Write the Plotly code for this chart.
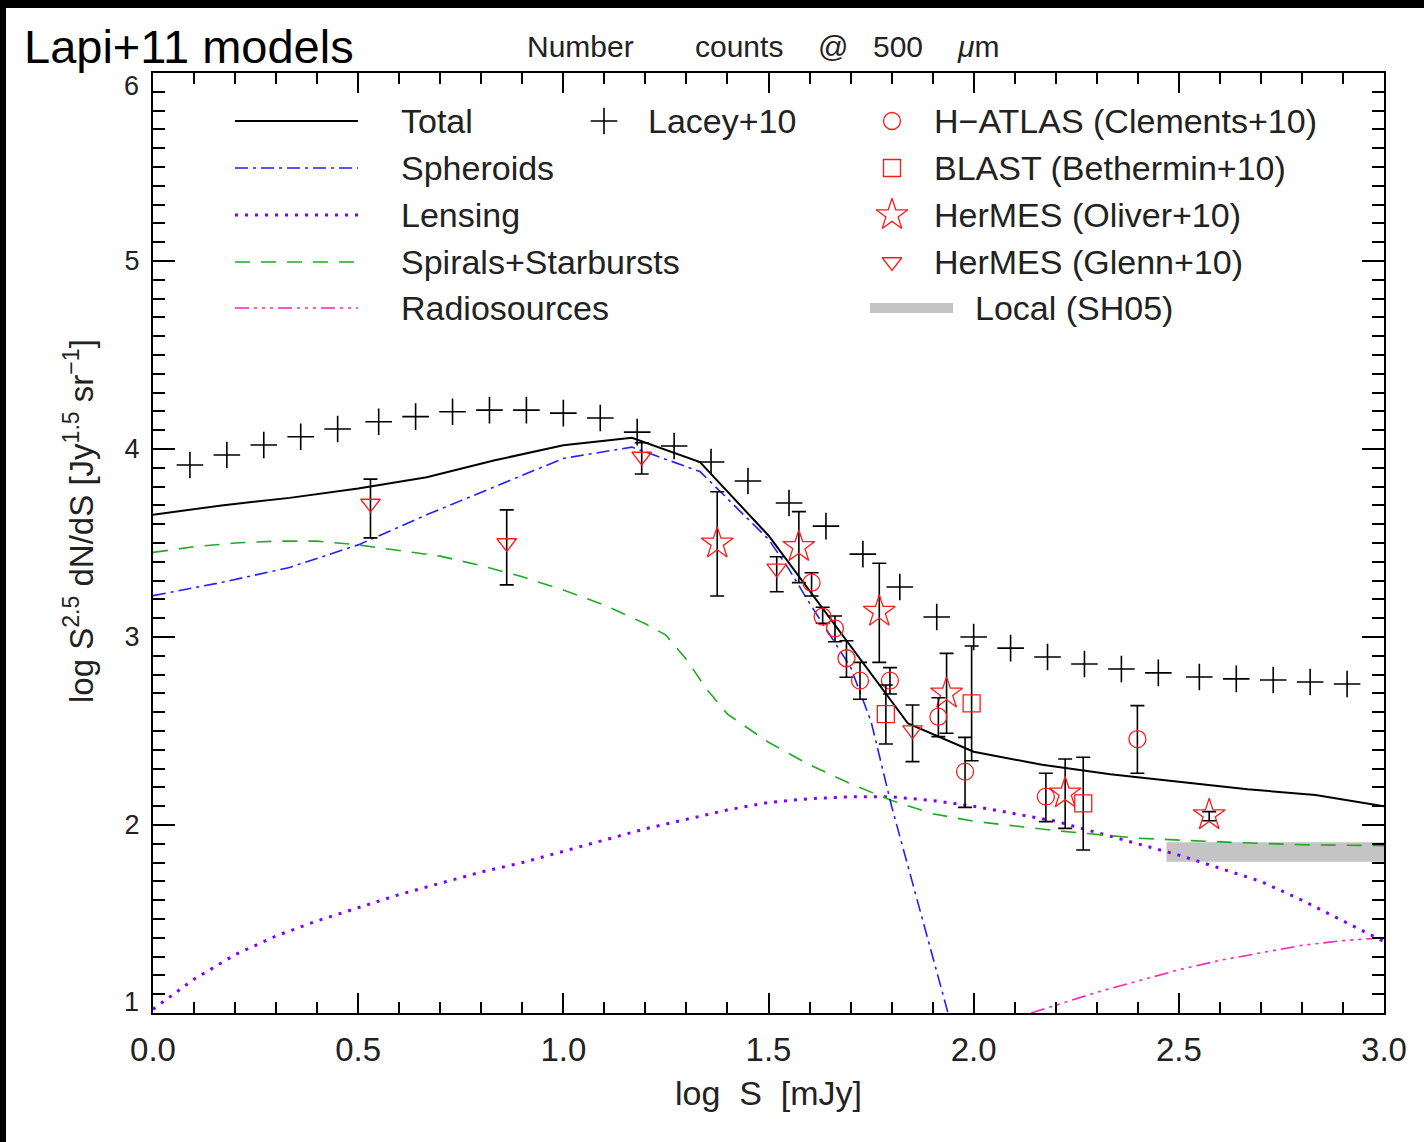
import plotly.graph_objects as go

# ---------------- data ----------------
# model curves: log S [mJy] vs log S^2.5 dN/dS
total_x = [0.0, 0.167, 0.333, 0.5, 0.667, 0.833, 1.0, 1.167, 1.333, 1.5, 1.84, 2.0, 2.167, 2.333, 2.5, 2.667, 2.833, 3.0]
total_y = [3.65, 3.70, 3.74, 3.79, 3.85, 3.94, 4.02, 4.06, 3.93, 3.54, 2.54, 2.39, 2.32, 2.27, 2.23, 2.19, 2.16, 2.10]

sph_x = [0.0, 0.167, 0.333, 0.5, 0.667, 0.833, 1.0, 1.167, 1.333, 1.5, 1.55, 1.6, 1.65, 1.7, 1.75, 1.8, 1.85, 1.9, 1.95]
sph_y = [3.22, 3.29, 3.37, 3.49, 3.65, 3.80, 3.95, 4.01, 3.88, 3.52, 3.36, 3.18, 3.01, 2.84, 2.55, 2.10, 1.70, 1.30, 0.90]

spi_x = [0.0, 0.1, 0.2, 0.3, 0.4, 0.5, 0.6, 0.7, 0.8, 0.9, 1.0, 1.1, 1.2, 1.25, 1.3, 1.35, 1.4, 1.5, 1.6, 1.7, 1.8, 1.9, 2.0, 2.2, 2.4, 2.6, 2.8, 3.0]
spi_y = [3.45, 3.48, 3.50, 3.51, 3.51, 3.49, 3.46, 3.43, 3.38, 3.32, 3.25, 3.17, 3.07, 3.01, 2.88, 2.72, 2.59, 2.44, 2.32, 2.22, 2.13, 2.06, 2.02, 1.97, 1.93, 1.91, 1.895, 1.89]

len_x = [0.0, 0.1, 0.2, 0.3, 0.4, 0.5, 0.6, 0.7, 0.8, 0.9, 1.0, 1.1, 1.2, 1.3, 1.4, 1.5, 1.6, 1.7, 1.8, 1.9, 2.0, 2.1, 2.2, 2.3, 2.4, 2.5, 2.6, 2.7, 2.8, 2.9, 3.0]
len_y = [1.02, 1.18, 1.31, 1.41, 1.49, 1.56, 1.63, 1.69, 1.75, 1.80, 1.86, 1.92, 1.98, 2.03, 2.08, 2.12, 2.14, 2.15, 2.15, 2.13, 2.10, 2.06, 2.02, 1.96, 1.90, 1.84, 1.77, 1.70, 1.60, 1.49, 1.38]

rad_x = [2.14, 2.2, 2.3, 2.4, 2.5, 2.6, 2.7, 2.8, 2.9, 3.0]
rad_y = [1.00, 1.04, 1.11, 1.17, 1.23, 1.28, 1.32, 1.36, 1.385, 1.40]

# Lacey+10 model points
lacey_x = [0.09, 0.18, 0.27, 0.36, 0.45, 0.55, 0.64, 0.73, 0.82, 0.91, 1.00, 1.09, 1.18, 1.27, 1.36, 1.45,
           1.55, 1.64, 1.73, 1.82, 1.91, 2.00, 2.09, 2.18, 2.27, 2.36, 2.45, 2.55, 2.64, 2.73, 2.82, 2.91]
lacey_y = [3.915, 3.968, 4.021, 4.065, 4.106, 4.145, 4.172, 4.198, 4.207, 4.207, 4.191, 4.165, 4.090, 4.016, 3.931, 3.830,
           3.713, 3.590, 3.441, 3.266, 3.106, 3.000, 2.941, 2.894, 2.856, 2.830, 2.809, 2.787, 2.777, 2.771, 2.761, 2.750]

# H-ATLAS (Clements+10)
cl_x = [1.605, 1.632, 1.662, 1.690, 1.723, 1.796, 1.914, 1.979, 2.176, 2.399]
cl_y = [3.289, 3.108, 3.046, 2.887, 2.768, 2.768, 2.576, 2.284, 2.151, 2.457]
cl_hi = [3.342, 3.158, 3.112, 2.980, 2.865, 2.837, 2.677, 2.466, 2.275, 2.635]
cl_lo = [3.218, 3.073, 2.975, 2.786, 2.669, 2.697, 2.470, 2.094, 2.018, 2.275]

# BLAST (Bethermin+10)
be_x = [1.786, 1.995, 2.267]
be_y = [2.590, 2.647, 2.115]
be_hi = [2.745, 2.952, 2.360]
be_lo = [2.431, 2.342, 1.867]

# HerMES (Oliver+10)
ol_x = [1.375, 1.574, 1.770, 1.934, 2.223, 2.574]
ol_y = [3.498, 3.480, 3.135, 2.700, 2.169, 2.053]
ol_hi = [3.773, 3.667, 3.392, 2.913, 2.351, 2.071]
ol_lo = [3.218, 3.289, 2.865, 2.488, 1.982, 2.023]

# HerMES (Glenn+10)
gl_x = [0.530, 0.862, 1.191, 1.520, 1.851]
gl_y = [3.710, 3.500, 3.960, 3.365, 2.505]
gl_hi = [3.840, 3.676, 4.033, 3.427, 2.638]
gl_lo = [3.527, 3.277, 3.867, 3.241, 2.337]

# Local (SH05) band
loc_x = [2.47, 3.0]
loc_lo = [1.805, 1.805]
loc_hi = [1.908, 1.908]

x_ticks = [0.0, 0.5, 1.0, 1.5, 2.0, 2.5, 3.0]
y_ticks = [1, 2, 3, 4, 5, 6]

# ---------------- layout helpers ----------------
W, H = 1424, 1142
PL, PR, PT, PB = 153, 1384, 73, 1013


def fx(p):
    return (p - PL) / (PR - PL)


def fy(p):
    return (PB - p) / (PB - PT)


FONT = "Liberation Sans"
TXT = "#222222"
RED = "#ff1a1a"
C_BLUE = "#1f1fff"
C_PURP = "#7f00ff"
C_GREEN = "#22aa22"
C_MAG = "#ff22bb"
D_BLUE = "13px,5px,3px,5px"
D_PURP = "3px,7px"
D_GREEN = "15px,11px"
D_MAG = "14px,5px,3px,5px,3px,5px,3px,5px"
NB = "\u00a0"

fig = go.Figure()

# local band
fig.add_trace(go.Scatter(x=loc_x, y=loc_lo, mode="lines", line=dict(width=0, color="#c4c4c4"),
                         hoverinfo="skip", showlegend=False))
fig.add_trace(go.Scatter(x=loc_x, y=loc_hi, mode="lines", line=dict(width=0, color="#c4c4c4"),
                         fill="tonexty", fillcolor="#c4c4c4", hoverinfo="skip", showlegend=False))

# model curves
fig.add_trace(go.Scatter(x=len_x, y=len_y, mode="lines", line=dict(color=C_PURP, width=3, dash=D_PURP), showlegend=False))
fig.add_trace(go.Scatter(x=rad_x, y=rad_y, mode="lines", line=dict(color=C_MAG, width=1.6, dash=D_MAG), showlegend=False))
fig.add_trace(go.Scatter(x=spi_x, y=spi_y, mode="lines", line=dict(color=C_GREEN, width=1.6, dash=D_GREEN), showlegend=False))
fig.add_trace(go.Scatter(x=sph_x, y=sph_y, mode="lines", line=dict(color=C_BLUE, width=1.6, dash=D_BLUE), showlegend=False))
fig.add_trace(go.Scatter(x=total_x, y=total_y, mode="lines", line=dict(color="black", width=2), showlegend=False))

# Lacey
fig.add_trace(go.Scatter(x=lacey_x, y=lacey_y, mode="markers",
                         marker=dict(symbol="cross-thin", size=19, color="black",
                                     line=dict(color="black", width=1.6)), showlegend=False))


def data_trace(xs, ys, hi, lo, symbol, size):
    return go.Scatter(
        x=xs, y=ys, mode="markers",
        marker=dict(symbol=symbol, size=size, color=RED, line=dict(color=RED, width=1.3)),
        error_y=dict(type="data", symmetric=False,
                     array=[h - y for h, y in zip(hi, ys)],
                     arrayminus=[y - l for l, y in zip(lo, ys)],
                     color="black", thickness=1.6, width=7),
        showlegend=False)


fig.add_trace(data_trace(gl_x, gl_y, gl_hi, gl_lo, "triangle-down-open", 17))
fig.add_trace(data_trace(ol_x, ol_y, ol_hi, ol_lo, "star-open", 24))
fig.add_trace(data_trace(cl_x, cl_y, cl_hi, cl_lo, "circle-open", 17))
fig.add_trace(data_trace(be_x, be_y, be_hi, be_lo, "square-open", 17))

# ---------------- legend (drawn on an overlay [0,1] axis) ----------------
rows = [121, 168, 215, 262, 308]
line_x0, line_x1 = fx(235), fx(358)
leg_lines = [("black", "solid", 2), (C_BLUE, D_BLUE, 1.6), (C_PURP, D_PURP, 3),
             (C_GREEN, D_GREEN, 1.6), (C_MAG, D_MAG, 1.6)]
for r, (c, d, w) in zip(rows, leg_lines):
    fig.add_trace(go.Scatter(x=[line_x0, line_x1], y=[fy(r), fy(r)], mode="lines",
                             line=dict(color=c, dash=d, width=w), xaxis="x3", yaxis="y3",
                             hoverinfo="skip", showlegend=False))
fig.add_trace(go.Scatter(x=[fx(870), fx(953)], y=[fy(308), fy(308)], mode="lines",
                         line=dict(color="#c4c4c4", width=10), xaxis="x3", yaxis="y3",
                         hoverinfo="skip", showlegend=False))
fig.add_trace(go.Scatter(x=[fx(604)], y=[fy(121)], mode="markers",
                         marker=dict(symbol="cross-thin", size=19, color="black",
                                     line=dict(color="black", width=1.6)),
                         xaxis="x3", yaxis="y3", hoverinfo="skip", showlegend=False))
for r, sym, sz in zip(rows[:4], ["circle-open", "square-open", "star-open", "triangle-down-open"], [17, 17, 24, 17]):
    fig.add_trace(go.Scatter(x=[fx(892)], y=[fy(r)], mode="markers",
                             marker=dict(symbol=sym, size=sz, color=RED, line=dict(color=RED, width=1.3)),
                             xaxis="x3", yaxis="y3", hoverinfo="skip", showlegend=False))

annotations = []


def txt(x, y, s, size, xanchor="left", color=TXT, angle=0, yref="paper", yshift=0):
    annotations.append(dict(x=x, y=y, xref="paper", yref=yref, text=s, showarrow=False,
                            xanchor=xanchor, yanchor="middle", textangle=angle, yshift=yshift,
                            font=dict(family=FONT, size=size, color=color)))


LEG = 34
left_labels = ["Total", "Spheroids", "Lensing", "Spirals+Starbursts", "Radiosources"]
for r, s in zip(rows, left_labels):
    txt(fx(399), fy(r), s, LEG)
txt(fx(646), fy(121), "Lacey+10", LEG)
right_labels = ["H\u2212ATLAS (Clements+10)", "BLAST (Bethermin+10)", "HerMES (Oliver+10)", "HerMES (Glenn+10)"]
for r, s in zip(rows[:4], right_labels):
    txt(fx(932), fy(r), s, LEG)
txt(fx(973), fy(308), "Local (SH05)", LEG)

# title (spaced words like the original)
for cx, w in [(580, "Number"), (738.5, "counts"), (833, "@"), (898, "500"), (977.5, "<i>\u03bc</i>m")]:
    txt(fx(cx), fy(47), w, 30, xanchor="center")

txt(fx(22), fy(46), "Lapi+11 models", 47, color="black")
txt(0.5, fy(1093), "log" + NB * 2 + "S" + NB * 2 + "[mJy]", 34, xanchor="center")
txt(fx(79), fy(521), "log S<sup>2.5</sup> dN/dS [Jy<sup>1.5</sup> sr<sup>\u22121</sup>]", 33,
    xanchor="center", angle=-90)

# end y tick labels, nudged inward as in the original
txt(fx(141), y_ticks[-1], str(y_ticks[-1]), 27, xanchor="right", yref="y", yshift=-13)
txt(fx(141), y_ticks[0], str(y_ticks[0]), 27, xanchor="right", yref="y", yshift=11)

# black frame strips (top and left edges of the picture)
shapes = [
    dict(type="rect", xref="paper", yref="paper", x0=fx(0), x1=fx(W), y0=fy(8), y1=fy(0),
         fillcolor="black", line=dict(width=0), layer="above"),
    dict(type="rect", xref="paper", yref="paper", x0=fx(0), x1=fx(6), y0=fy(H), y1=fy(0),
         fillcolor="black", line=dict(width=0), layer="above"),
]

axis_common = dict(showgrid=False, zeroline=False, showline=True, linecolor="black", linewidth=2,
                   mirror="allticks", ticks="inside", tickcolor="black", tickwidth=1.5)

fig.update_layout(
    width=W, height=H,
    margin=dict(l=PL, r=W - PR, t=PT, b=H - PB, pad=0),
    paper_bgcolor="white", plot_bgcolor="white",
    font=dict(family=FONT, color=TXT),
    showlegend=False,
    xaxis=dict(range=[0, 3], tickvals=x_ticks, ticktext=[f"{v:.1f}" for v in x_ticks],
               ticklen=20, tickfont=dict(size=33, color=TXT), ticklabelstandoff=6,
               minor=dict(dtick=0.1, ticks="inside", ticklen=11, tickcolor="black", tickwidth=1.5),
               **axis_common),
    yaxis=dict(range=[1, 6], tickvals=y_ticks[1:-1], ticktext=[str(v) for v in y_ticks[1:-1]],
               ticklen=22, tickfont=dict(size=27, color=TXT), ticklabelstandoff=6,
               minor=dict(dtick=0.1, ticks="inside", ticklen=12, tickcolor="black", tickwidth=1.5),
               **axis_common),
    xaxis3=dict(overlaying="x", anchor="y3", range=[0, 1], visible=False),
    yaxis3=dict(overlaying="y", anchor="x3", range=[0, 1], visible=False),
    annotations=annotations,
    shapes=shapes,
)

fig.write_html("out.html", config={"displayModeBar": False},
               post_script="document.body.style.margin='0';document.body.style.overflow='hidden';")
